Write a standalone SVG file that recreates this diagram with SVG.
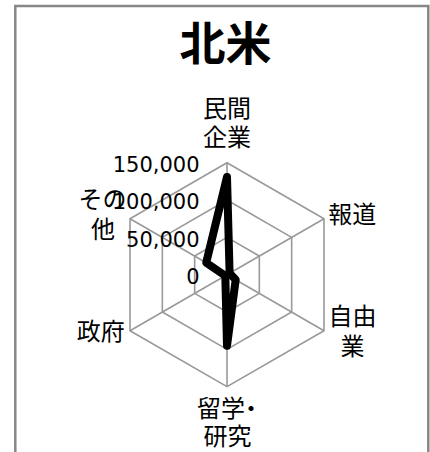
<svg xmlns="http://www.w3.org/2000/svg" width="430" height="452" viewBox="0 0 430 452">
  <style>
    .frame { fill: #ffffff; stroke: #878787; stroke-width: 2.5; }
    .grid { fill: none; stroke: #999999; stroke-width: 1.6; }
    .data { fill: none; stroke: #000000; stroke-width: 8; stroke-linejoin: round; stroke-linecap: round; }
    .lbl { font-family: "Noto Sans CJK JP", "Noto Sans CJK SC", sans-serif; font-size: 24px; fill: #000000; text-anchor: middle; }
    .title { font-family: "Noto Sans CJK JP", "Noto Sans CJK SC", sans-serif; font-size: 46px; font-weight: bold; fill: #000000; text-anchor: middle; }
    .num { font-family: "DejaVu Sans", "Liberation Sans", sans-serif; font-size: 21px; fill: #000000; text-anchor: end; }
  </style>
  <rect class="frame" x="15.3" y="6" width="413" height="470"/>
  <g id="title">
    <text class="title" x="225.5" y="60">北米</text>
  </g>
  <g id="grid">
    <polygon class="grid" points="227,162.7 323.99,218.7 323.99,330.7 227,386.7 130.01,330.7 130.01,218.7"/>
    <polygon class="grid" points="227,200.03 291.66,237.37 291.66,312.03 227,349.37 162.34,312.03 162.34,237.37"/>
    <polygon class="grid" points="227,237.37 259.33,256.03 259.33,293.37 227,312.03 194.67,293.37 194.67,256.03"/>
    <path class="grid" d="M227,274.7 L227,162.7 M227,274.7 L323.99,218.7 M227,274.7 L323.99,330.7 M227,274.7 L227,386.7 M227,274.7 L130.01,330.7 M227,274.7 L130.01,218.7"/>
  </g>
  <g id="axis-values">
    <text class="num" x="199.5" y="171.5">150,000</text>
    <text class="num" x="199.5" y="209">100,000</text>
    <text class="num" x="199.5" y="246.5">50,000</text>
    <text class="num" x="199.5" y="284">0</text>
  </g>
  <g id="connectors">
    <polygon class="data" points="227,177 229.6,273.2 235.7,279.7 227,345.7 225.3,275.7 206.2,262.7"/>
  </g>
  <g id="node-minkan">
    <text class="lbl" x="227" y="116.6">民間</text>
    <text class="lbl" x="227" y="146">企業</text>
  </g>
  <g id="node-houdou">
    <text class="lbl" x="352.2" y="223.3">報道</text>
  </g>
  <g id="node-jiyuugyou">
    <text class="lbl" x="352.4" y="325">自由</text>
    <text class="lbl" x="352.4" y="355">業</text>
  </g>
  <g id="node-ryuugaku">
    <text class="lbl" x="197" y="416.6" style="text-anchor:start">留学<tspan dx="-6">・</tspan></text>
    <text class="lbl" x="227.5" y="445">研究</text>
  </g>
  <g id="node-seifu">
    <text class="lbl" x="100.8" y="340">政府</text>
  </g>
  <g id="node-sonota">
    <text class="lbl" x="102.5" y="208.3">その</text>
    <text class="lbl" x="103" y="238.3">他</text>
  </g>
</svg>
